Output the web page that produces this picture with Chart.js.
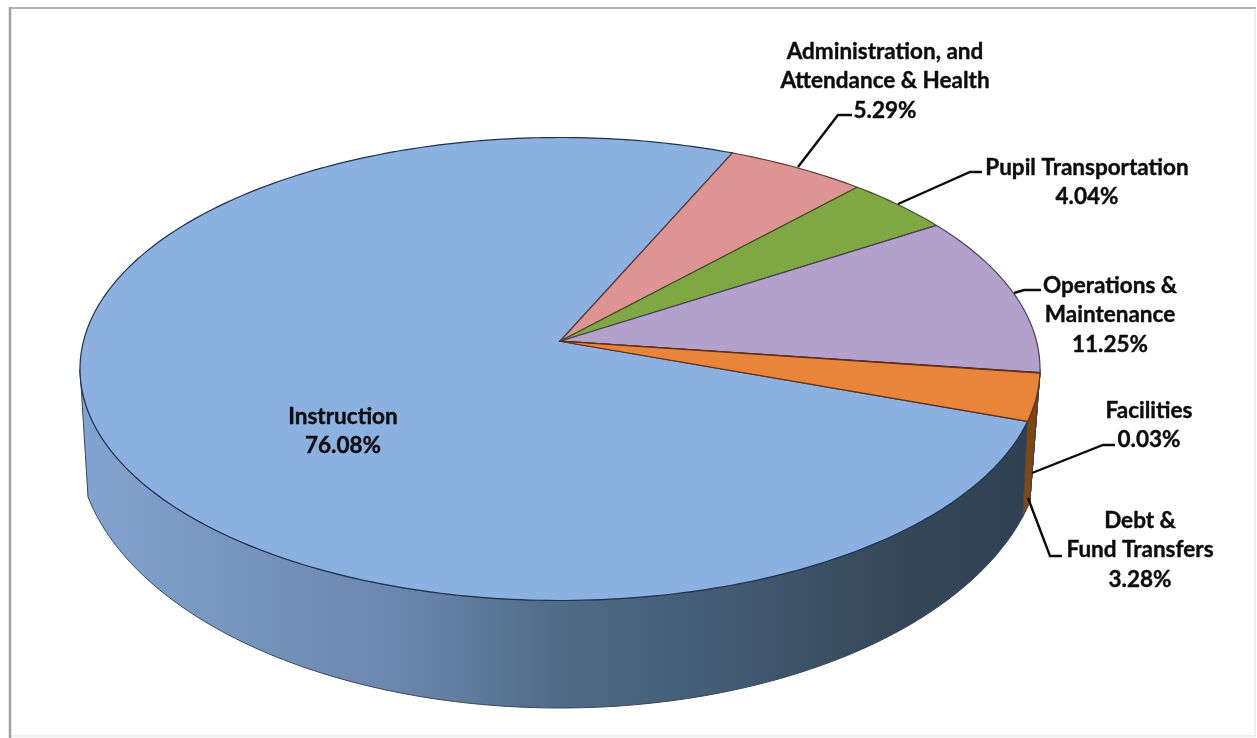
<!DOCTYPE html>
<html>
<head>
<meta charset="utf-8">
<title>Expenditures</title>
<script src="https://cdn.jsdelivr.net/npm/chart.js@4"></script>
<style>
  html, body { margin: 0; padding: 0; background: #fff; }
  #wrap { width: 1257px; height: 738px; }
</style>
</head>
<body>
<div id="wrap"><canvas id="pie-chart"></canvas></div>
<script>
const categories = ['Instruction', 'Administration, and Attendance & Health', 'Pupil Transportation', 'Operations & Maintenance', 'Facilities', 'Debt & Fund Transfers'];
const values = [76.08, 5.29, 4.04, 11.25, 0.03, 3.28];
const sliceColors = ['#8cb0e0', '#dd9492', '#7fa845', '#b3a1cb', '#4bacc6', '#e8853a'];
const edgeColors = ['#1c3350', '#5e3a3a', '#3c5220', '#4a3f5c', '#5a2530', '#5e3014'];
const labelLines = [
    ['Instruction', '76.08%'],
    ['Administration, and', 'Attendance & Health', '5.29%'],
    ['Pupil Transportation', '4.04%'],
    ['Operations &', 'Maintenance', '11.25%'],
    ['Facilities', '0.03%'],
    ['Debt &', 'Fund Transfers', '3.28%']
];
// where each label sits: centre x, first line y
const labelPos = [[343, 417], [885, 52], [1087, 168], [1110, 286], [1149, 411], [1140, 521]];
const leaders = [
    null,
    [[798, 167], [838, 115], [852, 115]],
    [[898, 204], [970, 172], [982, 172]],
    [[1014, 293], [1024, 290], [1041, 290]],
    [[1032, 473], [1103, 445], [1115, 445]],
    [[1028, 498], [1050, 556], [1062, 556]]
];

// the pie is a circle to the library; these turn it into the tilted disc
const squashX = 480 / 369;
const squashY = 231.5 / 369;
const tilt = -0.12;
const lowerDy = 71;
const lowerRx = 483 / 480;
const lowerRy = 268 / 231.5;
const wallTop = [0.12, Math.PI - 0.12];
const wallLow = [0.35, Math.PI - 0.33];

function rimPoint(el, angle, lower) {
    // angle is the library's own angle, 0 = east, clockwise
    const u = Math.cos(angle), v = Math.sin(angle);
    const d = 1 + tilt * v;
    const px = u * Math.sqrt(1 - tilt * tilt) / d;
    const py = (v + tilt) / d;
    const rx = el.outerRadius * squashX * (lower ? lowerRx : 1);
    const ry = el.outerRadius * squashY * (lower ? lowerRy : 1);
    return [el.x + px * rx, el.y + py * ry + (lower ? lowerDy : 0)];
}

function apexPoint(el) {
    return [el.x, el.y + tilt * el.outerRadius * squashY];
}

function sideGradient(ctx, stops) {
    const g = ctx.createLinearGradient(80, 0, 1040, 0);
    stops.forEach(function (s) { g.addColorStop(s[0], s[1]); });
    return g;
}

function traceRim(ctx, el, a0, a1, lower, first) {
    const steps = Math.max(2, Math.ceil(Math.abs(a1 - a0) * 60));
    for (let i = 0; i <= steps; i++) {
        const p = rimPoint(el, a0 + (a1 - a0) * i / steps, lower);
        if (i === 0 && first) ctx.moveTo(p[0], p[1]);
        else ctx.lineTo(p[0], p[1]);
    }
}

function clamp(a, range) {
    return Math.min(range[1], Math.max(range[0], a));
}

function norm(a) {
    // bring an angle into -PI/2 .. 3PI/2
    while (a < -Math.PI / 2) a += Math.PI * 2;
    while (a >= Math.PI * 1.5) a -= Math.PI * 2;
    return a;
}

function wall(ctx, el, a0, a1, fill) {
    const t0 = clamp(a0, wallTop), t1 = clamp(a1, wallTop);
    if (t1 <= t0) return;
    ctx.beginPath();
    traceRim(ctx, el, t0, t1, false, true);
    traceRim(ctx, el, clamp(t1 + 0.06, wallLow), clamp(t0 + 0.06, wallLow), true, false);
    ctx.closePath();
    ctx.fillStyle = fill;
    ctx.fill();
    ctx.strokeStyle = '#3c4650';
    ctx.lineWidth = 1;
    ctx.lineJoin = 'round';
    ctx.stroke();
}

const tiltedPie = {
    id: 'tiltedPie',
    beforeDraw: function (chart) {
        const ctx = chart.ctx;
        ctx.save();
        ctx.lineWidth = 2;
        ctx.strokeStyle = '#eeeeee';
        ctx.strokeRect(10, 8, 1245, 728);
        ctx.strokeStyle = '#b4b4b4';
        ctx.beginPath(); ctx.moveTo(10, 8); ctx.lineTo(1256, 8); ctx.stroke();
        ctx.strokeStyle = '#a0a0a0';
        ctx.lineWidth = 2.5;
        ctx.beginPath(); ctx.moveTo(10, 7); ctx.lineTo(10, 738); ctx.stroke();
        ctx.restore();
    },
    beforeDatasetDraw: function (chart) {
        const ctx = chart.ctx;
        const arcs = chart.getDatasetMeta(0).data;
        const blueSide = sideGradient(ctx, [[0, '#82a4d0'], [0.2, '#7392bb'], [0.33, '#6a88ad'], [0.5, '#506b87'], [0.68, '#425a72'], [0.85, '#354858'], [1, '#2f4052']]);
        const brownSide = sideGradient(ctx, [[0, '#b06a2a'], [0.95, '#a0581a'], [1, '#7a420e']]);
        ctx.save();
        // side wall first, front part only
        arcs.forEach(function (el, i) {
            const s = norm(el.startAngle);
            wall(ctx, el, s, s + (el.endAngle - el.startAngle), i === 0 ? blueSide : brownSide);
        });
        // top face
        arcs.forEach(function (el, i) {
            const a = apexPoint(el);
            ctx.beginPath();
            ctx.moveTo(a[0], a[1]);
            traceRim(ctx, el, el.startAngle, el.endAngle, false, false);
            ctx.closePath();
            ctx.fillStyle = sliceColors[i];
            ctx.fill();
            ctx.strokeStyle = edgeColors[i];
            ctx.lineWidth = 1.2;
            ctx.lineJoin = 'round';
            ctx.stroke();
        });
        ctx.restore();
        return false;
    },
    afterDatasetsDraw: function (chart) {
        const ctx = chart.ctx;
        ctx.save();
        ctx.strokeStyle = '#0d0d0d';
        ctx.lineWidth = 2.4;
        leaders.forEach(function (pts) {
            if (!pts) return;
            ctx.beginPath();
            pts.forEach(function (p, i) {
                if (i === 0) ctx.moveTo(p[0], p[1]);
                else ctx.lineTo(p[0], p[1]);
            });
            ctx.stroke();
        });
        ctx.fillStyle = '#0d0d0d';
        ctx.font = 'bold 22.5px Lato';
        ctx.textAlign = 'center';
        ctx.textBaseline = 'middle';
        ctx.lineWidth = 0.4;
        labelLines.forEach(function (lines, i) {
            lines.forEach(function (txt, n) {
                ctx.fillText(txt, labelPos[i][0], labelPos[i][1] + n * 29.2);
                ctx.strokeText(txt, labelPos[i][0], labelPos[i][1] + n * 29.2);
            });
        });
        ctx.restore();
    }
};

new Chart(document.getElementById('pie-chart'), {
    type: 'pie',
    data: {
        labels: categories,
        datasets: [{
            data: values,
            backgroundColor: sliceColors,
            borderWidth: 0
        }]
    },
    options: {
        responsive: true,
        maintainAspectRatio: false,
        animation: false,
        rotation: -250.29,
        layout: { padding: { right: 137 } },
        plugins: {
            legend: { display: false },
            tooltip: { enabled: false }
        }
    },
    plugins: [tiltedPie]
});
</script>
</body>
</html>
